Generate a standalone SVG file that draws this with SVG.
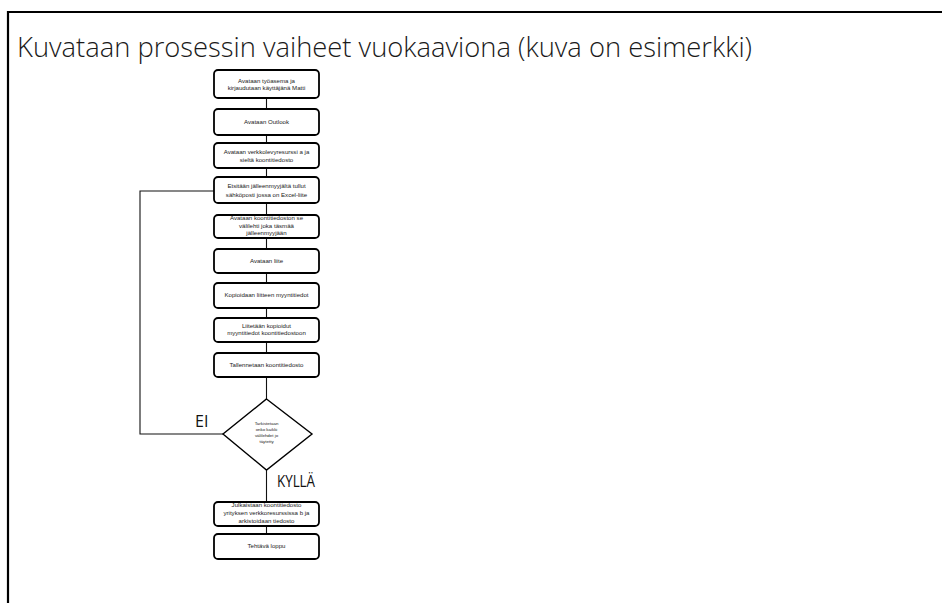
<svg xmlns="http://www.w3.org/2000/svg" width="942" height="603" viewBox="0 0 942 603">
  <style>
    .frame { stroke: #000; stroke-width: 2.2; fill: none; }
    .title { font-family: "Open Sans", "Liberation Sans", sans-serif; font-size: 27px; font-weight: 300; fill: #1a1a1a; }
    .box { fill: #fff; stroke: #000; stroke-width: 1.8; }
    .dia { fill: #fff; stroke: #000; stroke-width: 1.4; }
    .t { font-family: "Liberation Sans", Arial, sans-serif; font-size: 6.1px; fill: #1a1a1a; text-anchor: middle; }
    .td { font-family: "Liberation Sans", Arial, sans-serif; font-size: 4.4px; fill: #1a1a1a; text-anchor: middle; }
    .conn { stroke: #111; stroke-width: 1.1; fill: none; }
    .lbl { font-family: "Open Sans", "Liberation Sans", sans-serif; font-size: 16px; fill: #111; }
  </style>
  <rect width="942" height="603" fill="#fff"/>

  <!-- page frame -->
  <path class="frame" d="M 8 603 L 8 12 L 942 12"/>

  <text class="title" x="17" y="57" textLength="735" lengthAdjust="spacingAndGlyphs">Kuvataan prosessin vaiheet vuokaaviona (kuva on esimerkki)</text>

  <!-- connectors -->
  <g id="connectors">
    <path class="conn" d="M 266.5 98 V 109 M 266.5 135 V 143 M 266.5 168 V 177 M 266.5 203 V 215 M 266.5 238 V 249 M 266.5 273 V 283 M 266.5 308 V 318 M 266.5 342 V 353 M 266.5 377 V 399 M 266.5 470 V 502 M 266.5 526 V 534"/>
    <path class="conn" d="M 214 191 H 140 V 434 H 223"/>
  </g>

  <g id="n1">
    <rect class="box" x="214" y="70" width="105" height="28" rx="4"/>
    <text class="t" x="266.5" y="82.5">Avataan työasema ja</text>
    <text class="t" x="266.5" y="90">kirjaudutaan käyttäjänä Matti</text>
  </g>
  <g id="n2">
    <rect class="box" x="214" y="109" width="105" height="26" rx="4"/>
    <text class="t" x="266.5" y="124">Avataan Outlook</text>
  </g>
  <g id="n3">
    <rect class="box" x="214" y="143" width="105" height="25" rx="4"/>
    <text class="t" x="266.5" y="154">Avataan  verkkolevyresurssi a ja</text>
    <text class="t" x="266.5" y="162">sieltä koontitiedosto</text>
  </g>
  <g id="n4">
    <rect class="box" x="214" y="177" width="105" height="26" rx="4"/>
    <text class="t" x="266.5" y="188">Etsitään jälleenmyyjältä tullut</text>
    <text class="t" x="266.5" y="197">sähköposti jossa on Excel-liite</text>
  </g>
  <g id="n5">
    <rect class="box" x="214" y="215" width="105" height="23" rx="4"/>
    <text class="t" x="266.5" y="220">Avataan  koontitiedoston se</text>
    <text class="t" x="266.5" y="227.5">välilehti joka täsmää</text>
    <text class="t" x="266.5" y="235">jälleenmyyjään</text>
  </g>
  <g id="n6">
    <rect class="box" x="214" y="249" width="105" height="24" rx="4"/>
    <text class="t" x="266.5" y="263">Avataan  liite</text>
  </g>
  <g id="n7">
    <rect class="box" x="214" y="283" width="105" height="25" rx="4"/>
    <text class="t" x="266.5" y="297">Kopioidaan liitteen myyntitiedot</text>
  </g>
  <g id="n8">
    <rect class="box" x="214" y="318" width="105" height="24" rx="4"/>
    <text class="t" x="266.5" y="328">Liitetään  kopioidut</text>
    <text class="t" x="266.5" y="335">myyntitiedot  koontitiedostoon</text>
  </g>
  <g id="n9">
    <rect class="box" x="214" y="353" width="105" height="24" rx="4"/>
    <text class="t" x="266.5" y="367">Tallennetaan koontitiedosto</text>
  </g>
  <g id="n10">
    <polygon class="dia" points="266.5,399 312,434 266.5,470 223,434"/>
    <text class="td" x="266.5" y="425">Tarkistetaan</text>
    <text class="td" x="266.5" y="431">onko kaikki</text>
    <text class="td" x="266.5" y="437">välilehdet jo</text>
    <text class="td" x="266.5" y="443">täytetty</text>
  </g>
  <g id="n11">
    <rect class="box" x="214" y="502" width="105" height="24" rx="4"/>
    <text class="t" x="266.5" y="507">Julkaistaan koontitiedosto</text>
    <text class="t" x="266.5" y="515">yrityksen verkkoresurssissa b ja</text>
    <text class="t" x="266.5" y="523">arkistoidaan tiedosto</text>
  </g>
  <g id="n12">
    <rect class="box" x="214" y="534" width="105" height="25" rx="4"/>
    <text class="t" x="266.5" y="548">Tehtävä loppu</text>
  </g>

  <text class="lbl" x="195" y="427">EI</text>
  <text class="lbl" x="277" y="487" textLength="38" lengthAdjust="spacingAndGlyphs">KYLLÄ</text>
</svg>
